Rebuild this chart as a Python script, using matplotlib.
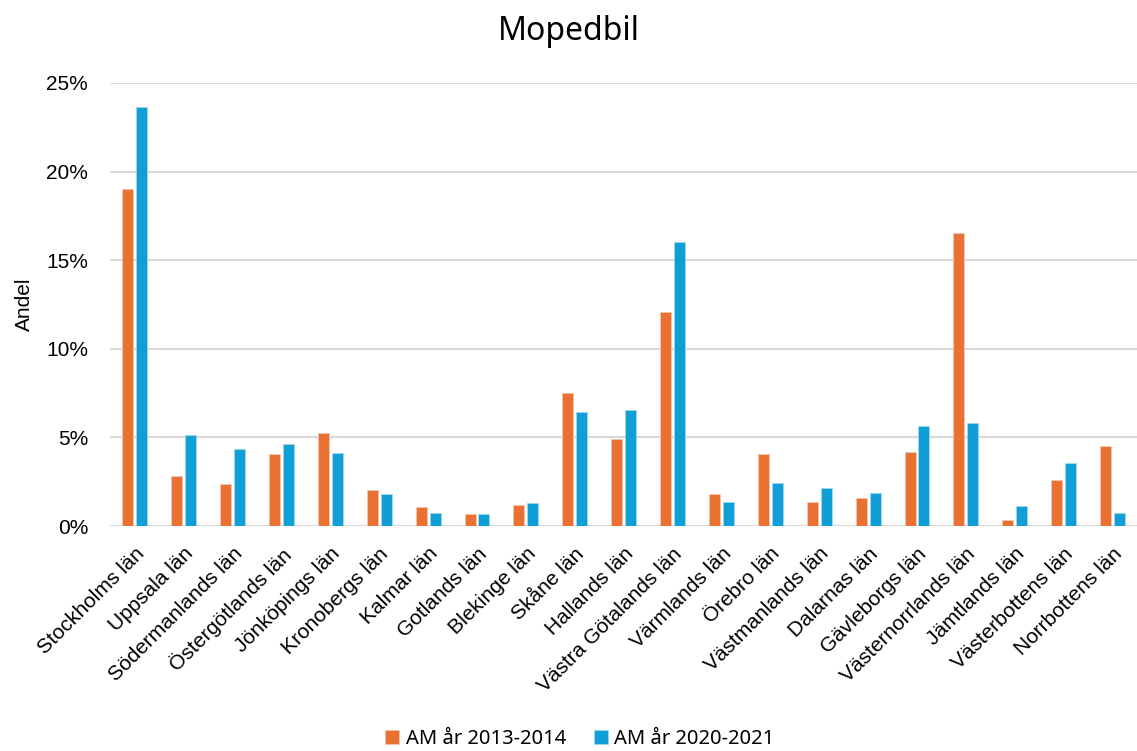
import numpy as np
import matplotlib.pyplot as plt
from matplotlib.ticker import PercentFormatter

# data (share in percent)
counties = ["Stockholms län", "Uppsala län", "Södermanlands län", "Östergötlands län",
            "Jönköpings län", "Kronobergs län", "Kalmar län", "Gotlands län",
            "Blekinge län", "Skåne län", "Hallands län", "Västra Götalands län",
            "Värmlands län", "Örebro län", "Västmanlands län", "Dalarnas län",
            "Gävleborgs län", "Västernorrlands län", "Jämtlands län",
            "Västerbottens län", "Norrbottens län"]
am_2013_2014 = [19.02, 2.84, 2.39, 4.07, 5.27, 2.03, 1.10, 0.70, 1.18, 7.50, 4.89,
                12.05, 1.82, 4.07, 1.36, 1.56, 4.17, 16.52, 0.36, 2.58, 4.53]
am_2020_2021 = [23.65, 5.11, 4.34, 4.64, 4.13, 1.80, 0.74, 0.65, 1.29, 6.44, 6.56,
                16.00, 1.33, 2.41, 2.14, 1.84, 5.63, 5.80, 1.12, 3.55, 0.74]
series_labels = ["AM år 2013-2014", "AM år 2020-2021"]

orange = "#E97132"
blue = "#0F9ED5"
grid_col = "#D9D9D9"

plt.rcParams['font.family'] = ['Liberation Sans', 'DejaVu Sans']

fig = plt.figure(figsize=(11.37, 7.51), dpi=100)
ax = fig.add_axes([0.097, 0.2996, 0.903, 0.5899])

x = np.arange(len(counties))
w = 0.225
ax.bar(x - w / 2 - 0.03, am_2013_2014, width=w, color=orange, edgecolor="#F6C7AC",
       linewidth=0.6, label=series_labels[0], zorder=3)
ax.bar(x + w / 2 + 0.03, am_2020_2021, width=w, color=blue, edgecolor="#9ED8EE",
       linewidth=0.6, label=series_labels[1], zorder=3)

ax.set_xlim(-0.5, len(counties) - 0.5)
ax.set_ylim(0, 25)
ax.set_yticks(np.arange(0, 26, 5))
ax.yaxis.set_major_formatter(PercentFormatter(decimals=0))
ax.grid(axis="y", color=grid_col, linewidth=1.5, zorder=0)
for s in ax.spines.values():
    s.set_visible(False)
ax.axhline(0, color=grid_col, linewidth=1.8, zorder=2)

ax.set_xticks(x)
ax.set_xticklabels(counties, rotation=45, ha="right", rotation_mode="anchor", fontsize=15)
ax.tick_params(axis="both", length=0, labelsize=15, colors="black")
ax.tick_params(axis="x", pad=13)
ax.tick_params(axis="y", pad=16)

ax.set_ylabel("Andel", fontsize=15, labelpad=9)
fig.text(0.5, 0.958, "Mopedbil", ha="center", va="center", fontsize=23,
         family=["Noto Sans", "DejaVu Sans"])

fig.legend(loc="lower center", bbox_to_anchor=(0.51, -0.022), ncols=2, frameon=False,
           handlelength=0.7, handleheight=0.7, handletextpad=0.3, columnspacing=1.4,
           prop={"family": ["Noto Sans", "DejaVu Sans"], "size": 14.5})

fig.savefig("out.png", dpi=100)
